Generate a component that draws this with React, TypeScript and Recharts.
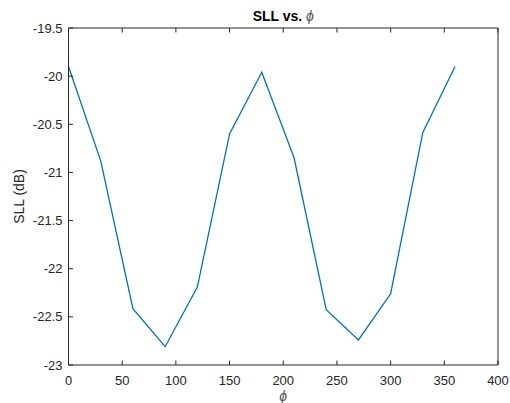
import React from "react";
import { LineChart, Line, XAxis, YAxis, Label } from "recharts";

const phi = [0, 30, 60, 90, 120, 150, 180, 210, 240, 270, 300, 330, 360];
const sll = [-19.9, -20.88, -22.415, -22.81, -22.19, -20.6, -19.96, -20.845, -22.425, -22.74, -22.26, -20.585, -19.9];
const xTicks = [0, 50, 100, 150, 200, 250, 300, 350, 400];
const yTicks = [-23, -22.5, -22, -21.5, -21, -20.5, -20, -19.5];

const data = phi.map((p, i) => ({ phi: p, sll: sll[i] }));

const AX = "#262626";
const FONT = '"Liberation Sans", Arial, Helvetica, sans-serif';

const BottomTick = (props: any) => {
  const { x, y, payload } = props;
  return (
    <g>
      <line x1={x} y1={y} x2={x} y2={y - 4.5} stroke={AX} strokeWidth={1} />
      <text x={x} y={y + 20} textAnchor="middle" fill={AX} fontSize={13} fontFamily={FONT}>
        {payload.value}
      </text>
    </g>
  );
};
const TopTick = (props: any) => {
  const { x, y } = props;
  return <line x1={x} y1={y} x2={x} y2={y + 4.5} stroke={AX} strokeWidth={1} />;
};
const LeftTick = (props: any) => {
  const { x, y, payload } = props;
  return (
    <g>
      <line x1={x} y1={y} x2={x + 4.5} y2={y} stroke={AX} strokeWidth={1} />
      <text x={x - 6} y={y + 4.6} textAnchor="end" fill={AX} fontSize={13} fontFamily={FONT}>
        {payload.value}
      </text>
    </g>
  );
};
const RightTick = (props: any) => {
  const { x, y } = props;
  return <line x1={x} y1={y} x2={x - 4.5} y2={y} stroke={AX} strokeWidth={1} />;
};

export default function App() {
  return (
    <div style={{ position: "absolute", left: 0, top: 0, width: 510, height: 403, background: "#fff" }}>
      <LineChart width={510} height={403} data={data} margin={{ top: 27, right: 11, bottom: 0, left: 0 }}>
        <XAxis
          xAxisId="b"
          dataKey="phi"
          type="number"
          domain={[0, 400]}
          ticks={xTicks}
          height={38}
          tickSize={0}
          tickMargin={0}
          tickLine={false}
          tick={<BottomTick />}
          axisLine={{ stroke: AX }}
          interval={0}
        >
          <Label
            content={(p: any) => {
              const vb = p.viewBox;
              return (
                <text x={vb.x + vb.width / 2} y={vb.y + 36} textAnchor="middle" fill="#555" fontSize={14} fontStyle="italic" fontFamily={FONT}>
                  ϕ
                </text>
              );
            }}
          />
        </XAxis>
        <XAxis
          xAxisId="t"
          dataKey="phi"
          type="number"
          orientation="top"
          domain={[0, 400]}
          ticks={xTicks}
          height={1}
          tickSize={0}
          tickMargin={0}
          tickLine={false}
          tick={<TopTick />}
          axisLine={{ stroke: AX }}
          interval={0}
        >
          <Label
            content={(p: any) => {
              const vb = p.viewBox;
              return (
                <text x={vb.x + vb.width / 2} y={vb.y - 6} textAnchor="middle" fill="#000" fontSize={14} fontFamily={FONT}>
                  <tspan fontWeight="bold">SLL vs. </tspan>
                  <tspan fontStyle="italic" fill="#555">ϕ</tspan>
                </text>
              );
            }}
          />
        </XAxis>
        <YAxis
          yAxisId="l"
          type="number"
          domain={[-23, -19.5]}
          ticks={yTicks}
          width={68.5}
          tickSize={0}
          tickMargin={0}
          tickLine={false}
          tick={<LeftTick />}
          axisLine={{ stroke: AX }}
          interval={0}
        >
          <Label
            content={(p: any) => {
              const vb = p.viewBox;
              const cx = vb.x + 24;
              const cy = vb.y + vb.height / 2;
              return (
                <text x={cx} y={cy} transform={`rotate(-90 ${cx} ${cy})`} textAnchor="middle" fill={AX} fontSize={14} fontFamily={FONT}>
                  SLL (dB)
                </text>
              );
            }}
          />
        </YAxis>
        <YAxis
          yAxisId="r"
          type="number"
          orientation="right"
          domain={[-23, -19.5]}
          ticks={yTicks}
          width={1}
          tickSize={0}
          tickMargin={0}
          tickLine={false}
          tick={<RightTick />}
          axisLine={{ stroke: AX }}
          interval={0}
        />
        <Line
          xAxisId="b"
          yAxisId="l"
          type="linear"
          dataKey="sll"
          stroke="#0072BD"
          strokeWidth={1.3}
          dot={false}
          isAnimationActive={false}
        />
      </LineChart>
    </div>
  );
}
